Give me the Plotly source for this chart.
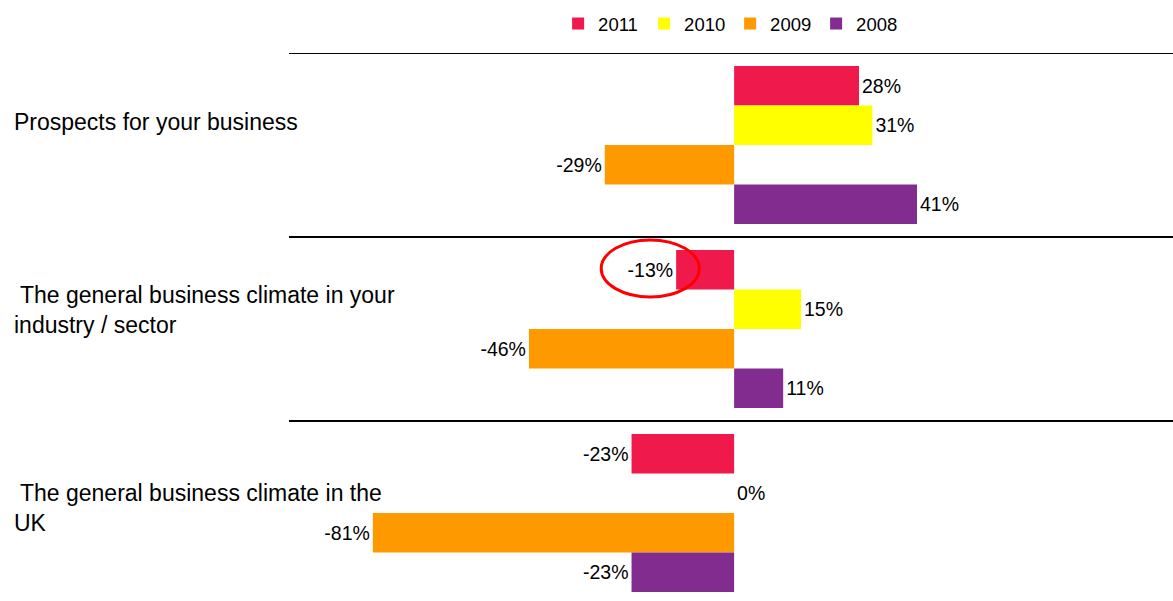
import plotly.graph_objects as go

# Survey questions (top to bottom) and net balance per year, in %
questions = [
    "Prospects for your business",
    " The general business climate in your<br>industry / sector",
    " The general business climate in the<br>UK",
]
years = ["2011", "2010", "2009", "2008"]
values_2011 = [28, -13, -23]
values_2010 = [31, 15, 0]
values_2009 = [-29, -46, -81]
values_2008 = [41, 11, -23]
series = [values_2011, values_2010, values_2009, values_2008]
colors = ["#EF1A4B", "#FFFF00", "#FF9900", "#822C8F"]

# vertical nudge (px) of each question label relative to its group centre
label_shift = [23, 19, 5]

FONT = "Liberation Sans, Arial, sans-serif"
cat_pos = list(range(len(questions)))

fig = go.Figure()
for year, vals, col in zip(years, series, colors):
    fig.add_trace(go.Bar(
        name=year,
        y=cat_pos,
        x=vals,
        orientation="h",
        marker=dict(color=col, line=dict(width=0)),
        text=[f"{v}%" for v in vals],
        textposition="outside",
        textfont=dict(family=FONT, size=19.5, color="#000000"),
        cliponaxis=False,
        hoverinfo="skip",
    ))

# group separators
shapes = []
for b in [-0.5, 0.5, 1.5]:
    shapes.append(dict(type="line", xref="paper", x0=0, x1=1, yref="y", y0=b, y1=b,
                       line=dict(color="#000000", width=2)))

# highlight ring around the 2011 value of the second question
shapes.append(dict(type="circle", xref="x", yref="y",
                   x0=-29.8, x1=-7.8, y0=0.516, y1=0.826,
                   line=dict(color="#FF0000", width=3)))

annotations = []
for i, (q, s) in enumerate(zip(questions, label_shift)):
    annotations.append(dict(
        text=q, xref="paper", x=-0.3133, xanchor="left",
        yref="y", y=i, yanchor="middle", yshift=s,
        showarrow=False, align="left",
        font=dict(family=FONT, size=23, color="#000000"),
    ))

fig.update_layout(
    width=1173, height=601,
    margin=dict(l=289, r=0, t=53, b=0),
    paper_bgcolor="#FFFFFF", plot_bgcolor="#FFFFFF",
    barmode="group", bargap=0.142, bargroupgap=0,
    showlegend=True,
    legend=dict(orientation="h", x=0.499, xanchor="center",
                yref="container", y=1 - 24 / 601, yanchor="middle",
                font=dict(family=FONT, size=18.5, color="#000000"),
                itemwidth=30, entrywidth=41, entrywidthmode="pixels",
                tracegroupgap=0, bgcolor="rgba(0,0,0,0)"),
    xaxis=dict(range=[-99.8, 98.4], visible=False, fixedrange=True),
    yaxis=dict(range=[2.478, -0.5], visible=False, fixedrange=True),
    shapes=shapes,
    annotations=annotations,
    font=dict(family=FONT),
)

fig.write_html("out.html")
